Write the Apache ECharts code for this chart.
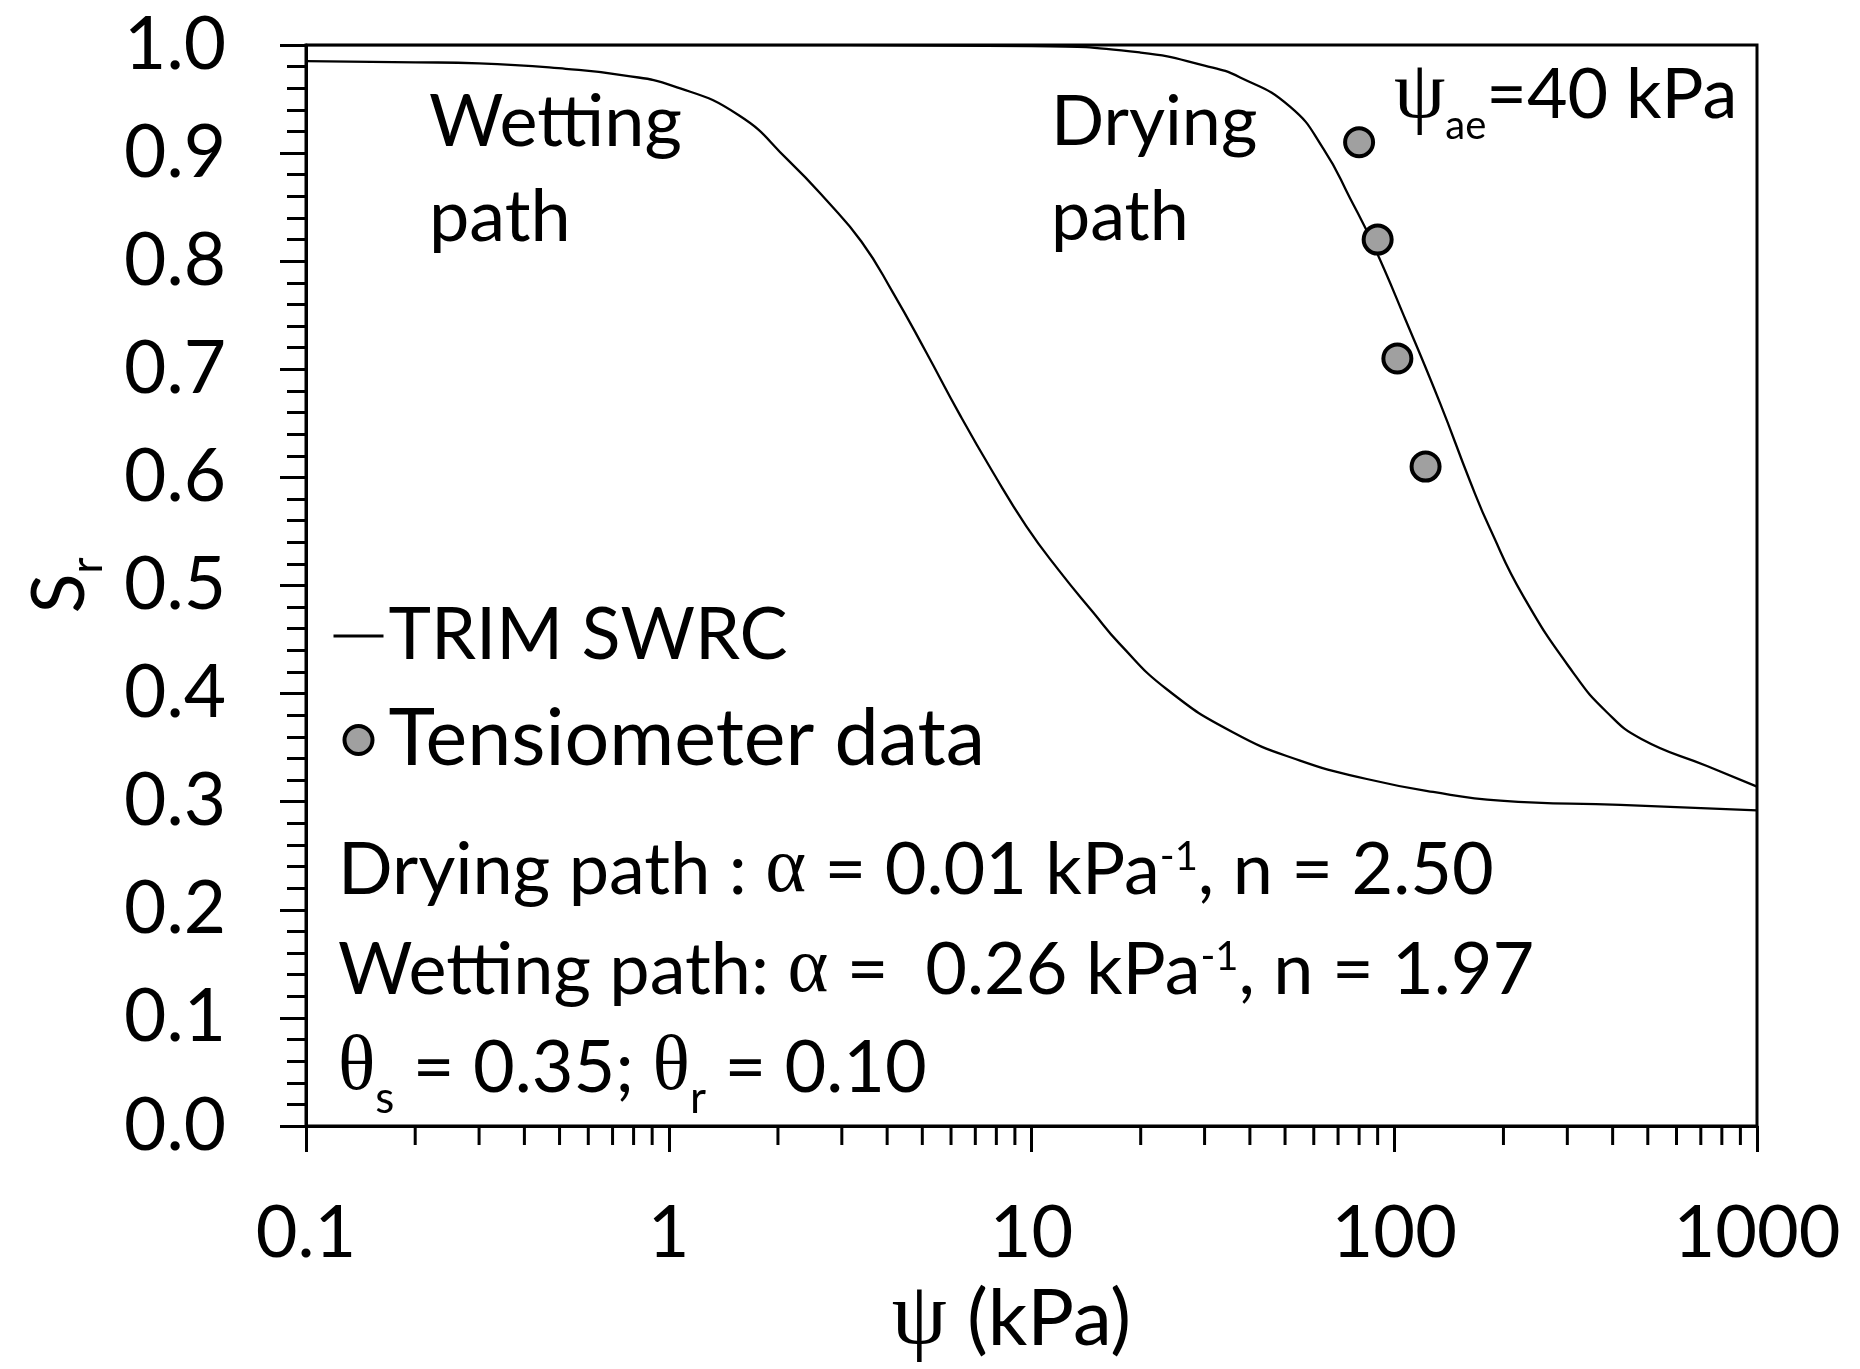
<!DOCTYPE html>
<html>
<head>
<meta charset="utf-8">
<title>TRIM SWRC</title>
<script src="https://cdn.jsdelivr.net/npm/echarts@6/dist/echarts.min.js"></script>
<style>
  html, body { margin: 0; padding: 0; background: #ffffff; }
  #chart { width: 1860px; height: 1369px; }
</style>
</head>
<body>
<div id="chart"></div>
<script>
// Wetting path of the TRIM soil-water retention curve: suction (kPa) and degree of saturation
const wettingPsi = [0.1, 0.2, 0.3, 0.52, 0.75, 1.03, 1.56, 2.14, 2.71, 3.4, 4.15, 5.12, 6.32, 7.82, 9.67, 11.9, 14.8, 17.5, 23.6, 36, 55, 84, 128, 196, 420, 1000];
const wettingSr  = [0.985, 0.984, 0.983, 0.978, 0.972, 0.962, 0.935, 0.893, 0.857, 0.818, 0.771, 0.716, 0.659, 0.605, 0.555, 0.514, 0.475, 0.446, 0.404, 0.364, 0.338, 0.321, 0.309, 0.301, 0.297, 0.292];

// Drying path of the TRIM curve
const dryingPsi = [0.1, 1, 10, 20, 30, 37.6, 51.6, 63.8, 75.6, 87.6, 108, 134, 162, 184, 227, 312, 385, 480, 728, 1000];
const dryingSr  = [1.0, 1.0, 0.999, 0.993, 0.981, 0.970, 0.943, 0.904, 0.858, 0.815, 0.744, 0.668, 0.596, 0.552, 0.49, 0.419, 0.383, 0.358, 0.333, 0.314];

// Tensiometer readings
const tensioPsi = [80, 90, 102, 122];
const tensioSr  = [0.91, 0.82, 0.71, 0.61];

// Axis ticks
const xTickLabels = ['0.1', '1', '10', '100', '1000'];
const xMinorTicks = [0.2, 0.3, 0.4, 0.5, 0.6, 0.7, 0.8, 0.9,
                     2, 3, 4, 5, 6, 7, 8, 9,
                     20, 30, 40, 50, 60, 70, 80, 90,
                     200, 300, 400, 500, 600, 700, 800, 900];
const yMin = 0, yMax = 1, yStep = 0.1;

const zip = (xs, ys) => xs.map((x, i) => [x, ys[i]]);

const FONT = 'Lato';
const GREEK = 'Liberation Serif';
const INK = '#000000';
const MARKER_FILL = '#a0a0a0';

// rich-text pieces (zrender style names)
const tMain  = { fontFamily: FONT, fontSize: 72, lineHeight: 80, verticalAlign: 'middle', fill: INK };
const tGreek = { fontFamily: GREEK, fontSize: 78, lineHeight: 80, verticalAlign: 'middle', fill: INK };
const tPsi   = { fontFamily: GREEK, fontSize: 82, lineHeight: 80, verticalAlign: 'middle', fill: INK };
const tSup   = { fontFamily: FONT, fontSize: 40, lineHeight: 40, padding: [0, 0, 28, 0], verticalAlign: 'middle', fill: INK };
const tSub   = { fontFamily: FONT, fontSize: 44, lineHeight: 44, padding: [60, 0, 0, 0], verticalAlign: 'middle', fill: INK };
const tSubAe = { fontFamily: FONT, fontSize: 40, lineHeight: 40, padding: [63, 0, 0, 0], verticalAlign: 'middle', fill: INK };
const tLabel = { fontFamily: FONT, fontSize: 70, lineHeight: 80, verticalAlign: 'middle', fill: INK };
const richSet = { a: tMain, g: tGreek, p: tPsi, l: tLabel, sup: tSup, sub: tSub, ae: tSubAe };

function note(x, y, text, extra) {
  return {
    type: 'text', x: x, y: y, z: 50, silent: true,
    style: Object.assign({
      text: text, fill: INK, fontFamily: FONT, fontSize: 70,
      align: 'left', verticalAlign: 'middle', rich: richSet
    }, extra || {})
  };
}

const chart = echarts.init(document.getElementById('chart'), null, { renderer: 'canvas' });

chart.setOption({
  animation: false,
  backgroundColor: '#ffffff',
  grid: {
    left: 306, right: 103, top: 45, bottom: 236,
    show: true, borderColor: INK, borderWidth: 3, backgroundColor: 'transparent'
  },
  legend: {
    orient: 'vertical',
    left: 332, top: 596, padding: 0,
    itemWidth: 50, itemHeight: 28, itemGap: 24,
    selectedMode: false,
    formatter: function (name) {
      return name === 'Tensiometer data' ? '{b|' + name + '}' : '{a|' + name + '}';
    },
    textStyle: {
      fontFamily: FONT, fontSize: 70, lineHeight: 80, color: INK,
      rich: {
        a: { fontFamily: FONT, fontSize: 72, lineHeight: 80, color: INK },
        b: { fontFamily: FONT, fontSize: 79, lineHeight: 80, color: INK }
      }
    },
    data: [
      { name: 'TRIM SWRC', itemStyle: { opacity: 0 }, lineStyle: { width: 3, color: INK } },
      { name: 'Tensiometer data', itemStyle: { color: MARKER_FILL, borderColor: INK, borderWidth: 4 } }
    ]
  },
  xAxis: {
    type: 'log', logBase: 10, min: 0.1, max: 1000,
    name: '{g|ψ}{a| (kPa)}',
    nameLocation: 'middle', nameGap: 152,
    nameTextStyle: {
      padding: [0, 40, 0, 0],
      rich: {
        g: { fontFamily: GREEK, fontSize: 88, lineHeight: 84, verticalAlign: 'middle', color: INK },
        a: { fontFamily: FONT, fontSize: 78, lineHeight: 84, verticalAlign: 'middle', color: INK }
      }
    },
    axisLine: { show: true, lineStyle: { color: INK, width: 3 } },
    axisTick: { show: true, length: 26, lineStyle: { color: INK, width: 3 } },
    axisLabel: {
      margin: 72, fontFamily: FONT, fontSize: 72, color: INK,
      formatter: function (v) {
        const k = Math.round(Math.log10(v)) + 1;
        return xTickLabels[k] !== undefined ? xTickLabels[k] : String(v);
      }
    },
    splitLine: { show: false },
    minorTick: { show: false }
  },
  yAxis: {
    type: 'value', min: yMin, max: yMax, interval: yStep,
    name: '{s|S}{r|r}',
    nameLocation: 'middle', nameGap: 206,
    nameTextStyle: {
      rich: {
        s: { fontFamily: FONT, fontSize: 74, lineHeight: 80, verticalAlign: 'middle', color: INK },
        r: { fontFamily: FONT, fontSize: 44, lineHeight: 44, padding: [56, 0, 0, 0], verticalAlign: 'middle', color: INK }
      }
    },
    axisLine: { show: true, lineStyle: { color: INK, width: 3 } },
    axisTick: { show: true, length: 26, lineStyle: { color: INK, width: 3 } },
    minorTick: { show: true, splitNumber: 5, length: 19, lineStyle: { color: INK, width: 3 } },
    axisLabel: {
      margin: 80, fontFamily: FONT, fontSize: 73, color: INK,
      formatter: function (v) { return v.toFixed(1); }
    },
    splitLine: { show: false }
  },
  series: [
    {
      name: 'TRIM SWRC', type: 'line', data: zip(wettingPsi, wettingSr),
      showSymbol: false, symbol: 'none', smooth: 0.5,
      lineStyle: { color: INK, width: 2.3 }, itemStyle: { color: INK }, z: 3
    },
    {
      name: 'TRIM SWRC', type: 'line', data: zip(dryingPsi, dryingSr),
      showSymbol: false, symbol: 'none', smooth: 0.5,
      lineStyle: { color: INK, width: 2.3 }, itemStyle: { color: INK }, z: 3
    },
    {
      name: 'Tensiometer data', type: 'scatter', data: zip(tensioPsi, tensioSr),
      symbol: 'circle', symbolSize: 28,
      itemStyle: { color: MARKER_FILL, borderColor: INK, borderWidth: 4, opacity: 1 },
      z: 5
    },
    {
      // minor ticks of the log axis at 2..9 of each decade
      name: 'xMinorTicks', type: 'custom', silent: true, clip: false,
      data: xMinorTicks.map(v => [v, 0]),
      encode: { x: 0, y: 1 },
      renderItem: function (params, api) {
        const p = api.coord([api.value(0), 0]);
        return {
          type: 'line',
          shape: { x1: p[0], y1: p[1], x2: p[0], y2: p[1] + 19 },
          style: { stroke: INK, lineWidth: 3 }
        };
      },
      z: 4
    }
  ],
  graphic: [
    note(429, 170, 'Wetting\npath', { fontSize: 72, lineHeight: 95, rich: null }),
    note(1051, 170, 'Drying\npath', { fontSize: 70, lineHeight: 95, rich: null }),
    note(1394, 95, '{p|ψ}{ae|ae}{l|=40 kPa}'),
    note(338, 871, '{a|Drying path : }{g|α}{a| = 0.01 kPa}{sup|-1}{a|, n = 2.50}'),
    note(338, 971, '{a|Wetting path: }{g|α}{a| =  0.26 kPa}{sup|-1}{a|, n = 1.97}'),
    note(338, 1069, '{g|θ}{sub|s}{a| = 0.35; }{g|θ}{sub|r}{a| = 0.10}')
  ]
});
</script>
</body>
</html>
